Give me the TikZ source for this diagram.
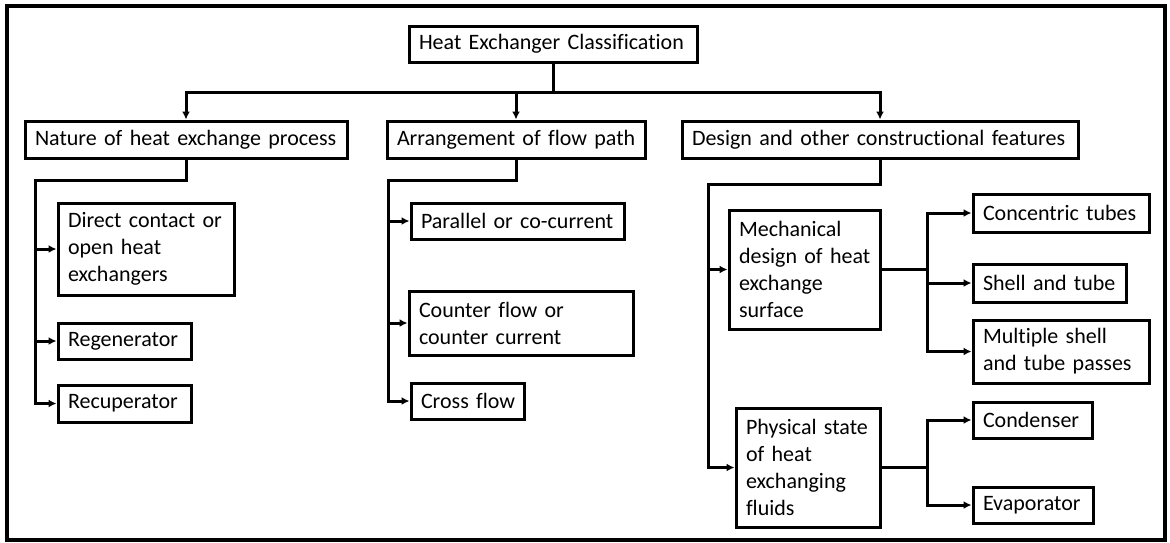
\documentclass[tikz,border=0pt]{standalone}
\usepackage{fontspec}
\setmainfont{Carlito}[Ligatures={NoCommon},WordSpace=0.85]
\usetikzlibrary{arrows.meta}
\newcommand\hxbox[6]{%
  \pgfmathsetmacro\hxw{#4-#2-20}%
  \pgfmathsetmacro\hxW{#4-#2}%
  \pgfmathsetmacro\hxH{#5-#3}%
  \node[hxb, minimum width=\hxW pt, minimum height=\hxH pt, text width=\hxw pt]
    (#1) at ({(#2+#4)/2},{(#3+#5)/2}) {#6};}
\tikzset{
  hxb/.style={draw, line width=3pt, inner xsep=10pt, inner ysep=0pt, align=left,
    font=\fontsize{22}{27}\selectfont},
  conn/.style={line width=3pt},
  arw/.style={line width=3pt, -{Latex[length=8pt,width=8pt]}}
}
\begin{document}
\begin{tikzpicture}[x=1pt,y=-1pt]
\useasboundingbox (0,0) rectangle (1170,542);
\draw[line width=3.5pt] (7,6) rectangle (1165,540);
% boxes
\hxbox{root}{409}{26}{697}{62}{\mbox{Heat Exchanger Classification}}
\hxbox{nat}{25}{121}{347}{158}{\mbox{Nature of heat exchange process}}
\hxbox{afp}{387}{121}{645}{158}{\mbox{Arrangement of flow path}}
\hxbox{des}{682}{121}{1078}{158}{\mbox{Design and other constructional features}}
\hxbox{dc}{58}{203}{234}{295}{\mbox{Direct contact or}\\\mbox{open heat}\\\mbox{exchangers}}
\hxbox{reg}{58}{323}{191}{359}{\mbox{Regenerator}}
\hxbox{rec}{58}{385}{191}{422}{\mbox{Recuperator}}
\hxbox{par}{411}{203}{624}{239}{\mbox{Parallel or co-current}}
\hxbox{cnt}{409}{291}{633}{355}{\mbox{Counter flow or}\\\mbox{counter current}}
\hxbox{crs}{411}{383}{524}{419}{\mbox{Cross flow}}
\hxbox{mech}{729}{210}{880}{329}{\mbox{Mechanical}\\\mbox{design of heat}\\\mbox{exchange}\\\mbox{surface}}
\hxbox{phys}{736}{408}{880}{527}{\mbox{Physical state}\\\mbox{of heat}\\\mbox{exchanging}\\\mbox{fluids}}
\hxbox{ct}{973}{194}{1149}{232}{\mbox{Concentric tubes}}
\hxbox{st}{973}{264}{1126}{302}{\mbox{Shell and tube}}
\hxbox{mst}{973}{320}{1149}{383}{\mbox{Multiple shell}\\\mbox{and tube passes}}
\hxbox{cond}{973}{402}{1092}{438}{\mbox{Condenser}}
\hxbox{evap}{973}{487}{1093}{523}{\mbox{Evaporator}}
% level 1
\coordinate (bus) at (553,92);
\draw[conn] (root.south) -- (bus);
\draw[arw] (bus) -| (nat.north);
\draw[arw] (bus) -| (des.north);
\draw[arw] (afp.north |- bus) -- (afp.north);
% nature
\coordinate (tn) at (35,180);
\draw[arw] (nat.south) |- (tn) |- (rec.west);
\draw[arw] (tn |- dc.west) -- (dc.west);
\draw[arw] (tn |- reg.west) -- (reg.west);
% arrangement
\coordinate (ta) at (388,180);
\draw[arw] (afp.south) |- (ta) |- (crs.west);
\draw[arw] (ta |- par.west) -- (par.west);
\draw[arw] (ta |- cnt.west) -- (cnt.west);
% design
\coordinate (td) at (708,184);
\draw[arw] (des.south) |- (td) |- (phys.west);
\draw[arw] (td |- mech.west) -- (mech.west);
% mechanical
\coordinate (mj) at (927,0);
\draw[conn] (mech.east) -- (mj |- mech.east);
\draw[arw] (mj |- mech.east) |- (ct.west);
\draw[arw] (mj |- mech.east) |- (mst.west);
\draw[arw] (mj |- st.west) -- (st.west);
% physical
\draw[conn] (phys.east) -- (mj |- phys.east);
\draw[arw] (mj |- phys.east) |- (cond.west);
\draw[arw] (mj |- phys.east) |- (evap.west);
\end{tikzpicture}
\end{document}
